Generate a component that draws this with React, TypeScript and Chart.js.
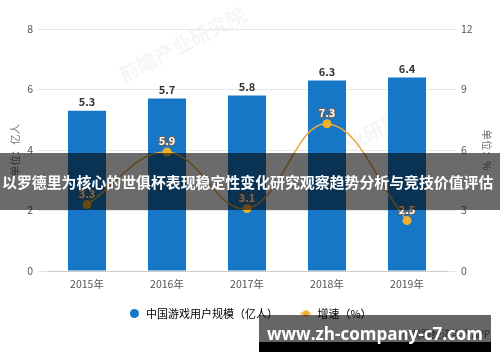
import React, { useEffect, useRef } from "react";
import { Chart, registerables } from "chart.js";

Chart.register(...registerables);

const categories = ["2015年", "2016年", "2017年", "2018年", "2019年"];
const userScale = [5.3, 5.7, 5.8, 6.3, 6.4];
const growthRate = [3.3, 5.9, 3.1, 7.3, 2.5];
const leftTicks = [0, 2, 4, 6, 8];
const rightTicks = [0, 3, 6, 9, 12];
const seriesNames = ["中国游戏用户规模（亿人）", "增速（%）"];
const leftTitle = "单位：亿人";
const rightTitle = "单位：%";
const overlayTitle = "以罗德里为核心的世俱杯表现稳定性变化研究观察趋势分析与竞技价值评估";
const watermark = "www.zh-company-c7.com";
const sourceNote = "@前瞻经济学人APP";
const logoText = "前瞻产业研究院";

const FONT = '"Noto Sans CJK SC", "Noto Sans", sans-serif';
const BAR_COLOR = "#1677c7";
const LINE_COLOR = "#e3aa3e";
const POINT_COLOR = "#f0b02c";

function makeLineIcon(): HTMLCanvasElement {
  const c = document.createElement("canvas");
  c.width = 11;
  c.height = 8;
  const ctx = c.getContext("2d")!;
  ctx.strokeStyle = LINE_COLOR;
  ctx.lineWidth = 1.5;
  ctx.beginPath();
  ctx.moveTo(0, 4);
  ctx.lineTo(11, 4);
  ctx.stroke();
  ctx.fillStyle = POINT_COLOR;
  ctx.beginPath();
  ctx.arc(5.5, 4, 3.2, 0, Math.PI * 2);
  ctx.fill();
  return c;
}

function makeDotIcon(): HTMLCanvasElement {
  const c = document.createElement("canvas");
  c.width = 9;
  c.height = 9;
  const ctx = c.getContext("2d")!;
  ctx.fillStyle = BAR_COLOR;
  ctx.beginPath();
  ctx.arc(4.5, 4.5, 4.5, 0, Math.PI * 2);
  ctx.fill();
  return c;
}

const labelPlugin = {
  id: "valueLabels",
  afterLayout(chart: any) {
    if (chart.legend) {
      chart.legend.top -= 12;
      chart.legend.bottom -= 12;
    }
  },
  afterDatasetsDraw(chart: any) {
    const ctx = chart.ctx;
    ctx.save();
    ctx.textAlign = "center";
    ctx.textBaseline = "middle";
    const barMeta = chart.getDatasetMeta(0);
    ctx.font = `bold 11px ${FONT}`;
    ctx.fillStyle = "#333";
    barMeta.data.forEach((el: any, i: number) => {
      ctx.fillText(String(userScale[i]), el.x, el.y - 9);
    });
    const lineMeta = chart.getDatasetMeta(1);
    ctx.font = `bold 11px ${FONT}`;
    ctx.lineJoin = "round";
    lineMeta.data.forEach((el: any, i: number) => {
      const t = growthRate[i].toFixed(1);
      ctx.strokeStyle = "#666";
      ctx.lineWidth = 2.5;
      ctx.strokeText(t, el.x, el.y - 11);
      ctx.fillStyle = "#fff";
      ctx.fillText(t, el.x, el.y - 11);
    });
    ctx.restore();
  },
};

export default function App() {
  const ref = useRef<HTMLCanvasElement | null>(null);
  useEffect(() => {
    if (!ref.current) return;
    const lineIcon = makeLineIcon();
    const dotIcon = makeDotIcon();
    const chart = new Chart(ref.current, {
      type: "bar",
      data: {
        labels: categories,
        datasets: [
          {
            type: "bar",
            label: seriesNames[0],
            data: userScale,
            backgroundColor: BAR_COLOR,
            barPercentage: 0.95,
            categoryPercentage: 0.5,
            yAxisID: "y",
            order: 2,
          },
          {
            type: "line",
            label: seriesNames[1],
            data: growthRate,
            borderColor: LINE_COLOR,
            borderWidth: 1.5,
            backgroundColor: POINT_COLOR,
            pointBackgroundColor: POINT_COLOR,
            pointBorderWidth: 0,
            pointRadius: 4.5,
            tension: 0.4,
            yAxisID: "y1",
            order: 1,
          } as any,
        ],
      },
      options: {
        responsive: false,
        animation: false,
        layout: { padding: { top: 29, bottom: 21, left: 0, right: 0 } },
        scales: {
          x: {
            grid: { display: false, drawTicks: false },
            border: { display: true, color: "#cccccc" },
            ticks: { color: "#555", font: { family: FONT, size: 10.5 }, padding: 7 },
            afterFit: (s: any) => {
              s.height = 27;
            },
          },
          y: {
            position: "left",
            min: 0,
            max: 8,
            afterBuildTicks: (s: any) => {
              s.ticks = leftTicks.map((v) => ({ value: v }));
            },
            grid: { color: "#e6e6e6", tickLength: 9 },
            border: { display: false },
            ticks: { color: "#555", font: { family: FONT, size: 10.5 }, padding: 5 },
            title: {
              display: true,
              text: leftTitle,
              color: "#777",
              font: { family: FONT, size: 10.5 },
              padding: { top: 8.7, bottom: 0 },
            },
            afterFit: (s: any) => {
              s.width = 47;
            },
          },
          y1: {
            position: "right",
            min: 0,
            max: 12,
            afterBuildTicks: (s: any) => {
              s.ticks = rightTicks.map((v) => ({ value: v }));
            },
            grid: { color: "#e6e6e6", tickLength: 9, drawOnChartArea: false },
            border: { display: false },
            ticks: { color: "#555", font: { family: FONT, size: 10.5 }, padding: 5 },
            title: {
              display: true,
              text: rightTitle,
              color: "#777",
              font: { family: FONT, size: 10.5 },
              padding: { top: 6.7, bottom: 0 },
            },
            afterFit: (s: any) => {
              s.width = 53;
            },
          },
        },
        plugins: {
          tooltip: { enabled: false },
          legend: {
            position: "bottom",
            labels: {
              usePointStyle: true,
              pointStyleWidth: 12,
              boxHeight: 9,
              padding: 22,
              color: "#333",
              font: { family: FONT, size: 11 },
              generateLabels: () => [
                {
                  text: seriesNames[0],
                  fillStyle: BAR_COLOR,
                  strokeStyle: BAR_COLOR,
                  lineWidth: 0,
                  pointStyle: dotIcon,
                  datasetIndex: 0,
                  hidden: false,
                },
                {
                  text: seriesNames[1],
                  fillStyle: POINT_COLOR,
                  strokeStyle: POINT_COLOR,
                  lineWidth: 0,
                  pointStyle: lineIcon,
                  datasetIndex: 1,
                  hidden: false,
                },
              ],
            },
          },
        },
      } as any,
      plugins: [labelPlugin],
    });
    return () => chart.destroy();
  }, []);

  const logoStyle = (cx: number, cy: number): React.CSSProperties => ({
    position: "absolute",
    left: cx - 75,
    top: cy - 12,
    width: 150,
    height: 24,
    lineHeight: "24px",
    textAlign: "center",
    transform: "rotate(-27deg)",
    fontFamily: FONT,
    fontWeight: "bold",
    fontSize: 20,
    color: "rgba(140,150,170,0.09)",
    whiteSpace: "nowrap",
  });

  return (
    <div style={{ position: "fixed", left: 0, top: 0, width: 500, height: 362, background: "#fff", overflow: "hidden" }}>
      <div style={logoStyle(182, 44)}>{logoText}</div>
      <div style={logoStyle(355, 140)}>{logoText}</div>
      <canvas ref={ref} width={500} height={362} style={{ position: "absolute", left: 0, top: 0, width: 500, height: 362 }} />
      <div
        style={{
          position: "absolute",
          left: 402,
          top: 326,
          fontFamily: FONT,
          fontSize: 10,
          color: "#666",
          whiteSpace: "nowrap",
        }}
      >
        {sourceNote}
      </div>
      <div
        style={{
          position: "absolute",
          left: 0,
          top: 153,
          width: 500,
          height: 57,
          background: "rgba(0,0,0,0.58)",
          display: "flex",
          alignItems: "center",
        }}
      >
        <span
          style={{
            marginLeft: 2,
            color: "#fff",
            fontFamily: FONT,
            fontWeight: "bold",
            fontSize: 14.9,
            whiteSpace: "nowrap",
          }}
        >
          {overlayTitle}
        </span>
      </div>
      <div
        style={{
          position: "absolute",
          left: 259,
          top: 315,
          width: 232,
          height: 37,
          background: "rgba(0,0,0,0.6)",
        }}
      />
      <div style={{ position: "absolute", left: 259, top: 342, width: 232, height: 10, background: "#000" }} />
      <div
        style={{
          position: "absolute",
          left: 259,
          top: 323,
          width: 232,
          textAlign: "center",
          color: "#fff",
          fontFamily: '"Open Sans", "Liberation Sans", sans-serif',
          fontWeight: "bold",
          fontSize: 17,
          lineHeight: "22px",
          whiteSpace: "nowrap",
        }}
      >
        {watermark}
      </div>
    </div>
  );
}
